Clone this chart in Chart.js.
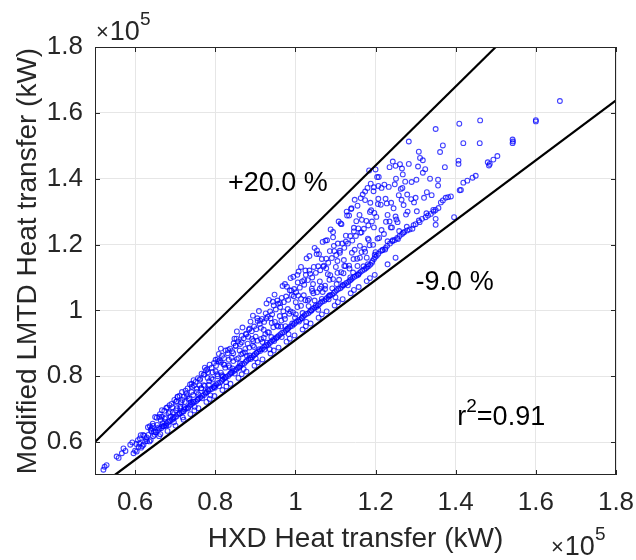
<!DOCTYPE html>
<html>
<head>
<meta charset="utf-8">
<script src="https://cdn.jsdelivr.net/npm/chart.js@4.4.1/dist/chart.umd.min.js"></script>
<style>
html,body{margin:0;padding:0;background:#fff;}
#wrap{width:636px;height:560px;}
</style>
</head>
<body>
<div id="wrap"><canvas id="c" width="636" height="560"></canvas></div>
<script>
// ---- values (units of 1e5 kW) ----
const xTicks = [0.6, 0.8, 1.0, 1.2, 1.4, 1.6, 1.8];
const xTickLabels = ['0.6', '0.8', '1', '1.2', '1.4', '1.6', '1.8'];
const yTicks = [0.6, 0.8, 1.0, 1.2, 1.4, 1.6, 1.8];
const yTickLabels = ['0.6', '0.8', '1', '1.2', '1.4', '1.6', '1.8'];

const startCluster = [[0.521,0.516],[0.524,0.525],[0.529,0.530],[0.554,0.556],[0.559,0.552],[0.567,0.566],[0.571,0.581],[0.576,0.573],[0.588,0.592],[0.593,0.599],[0.596,0.566],[0.600,0.574],[0.604,0.571],[0.607,0.606],[0.612,0.611],[0.615,0.583],[0.621,0.592],[0.625,0.602],[0.629,0.614],[0.633,0.622],[0.637,0.648],[0.642,0.642],[0.639,0.606],[0.645,0.618],[0.647,0.632],[0.644,0.656]];

const mainBand = [[0.652,0.630],[0.657,0.636],[0.661,0.641],[0.665,0.642],[0.668,0.648],
[0.672,0.648],[0.676,0.652],[0.679,0.657],[0.683,0.661],[0.687,0.664],
[0.692,0.668],[0.695,0.671],[0.699,0.675],[0.703,0.678],[0.707,0.684],
[0.712,0.687],[0.716,0.690],[0.719,0.694],[0.723,0.699],[0.727,0.702],
[0.732,0.705],[0.736,0.710],[0.739,0.714],[0.743,0.717],[0.747,0.722],
[0.752,0.724],[0.756,0.729],[0.759,0.733],[0.763,0.736],[0.767,0.741],
[0.772,0.743],[0.776,0.748],[0.779,0.752],[0.783,0.756],[0.787,0.760],
[0.792,0.762],[0.796,0.767],[0.799,0.771],[0.803,0.775],[0.807,0.779],
[0.812,0.781],[0.816,0.786],[0.819,0.790],[0.823,0.794],[0.827,0.798],
[0.832,0.801],[0.836,0.806],[0.839,0.809],[0.843,0.813],[0.847,0.817],
[0.852,0.820],[0.856,0.825],[0.859,0.829],[0.863,0.832],[0.867,0.837],
[0.872,0.839],[0.876,0.844],[0.879,0.848],[0.883,0.852],[0.887,0.856],
[0.892,0.858],[0.896,0.863],[0.899,0.867],[0.903,0.871],[0.907,0.875],
[0.912,0.877],[0.916,0.882],[0.919,0.886],[0.923,0.890],[0.927,0.894],
[0.932,0.896],[0.936,0.901],[0.939,0.905],[0.943,0.909],[0.947,0.913],
[0.952,0.915],[0.956,0.920],[0.959,0.924],[0.963,0.928],[0.967,0.932],
[0.972,0.934],[0.976,0.939],[0.979,0.943],[0.983,0.947],[0.987,0.951],
[0.992,0.953],[0.996,0.958],[0.999,0.962],[1.003,0.966],[1.007,0.970],
[1.012,0.972],[1.016,0.977],[1.019,0.981],[1.023,0.985],[1.027,0.989],
[1.032,0.991],[1.036,0.996],[1.039,1.000],[1.043,1.004],[1.047,1.008],
[1.052,1.010],[1.056,1.015],[1.059,1.019],[1.063,1.023],[1.067,1.027],
[1.072,1.029],[1.076,1.034],[1.079,1.038],[1.083,1.042],[1.087,1.046],
[1.092,1.048],[1.096,1.053],[1.099,1.057],[1.103,1.061],[1.107,1.065],
[1.112,1.067],[1.116,1.072],[1.119,1.076],[1.123,1.079],[1.127,1.083],
[1.132,1.086],[1.136,1.091],[1.139,1.094],[1.143,1.098],[1.147,1.102],
[1.152,1.105],[1.156,1.109],[1.159,1.113],[1.163,1.117],[1.167,1.121],
[1.172,1.124],[1.176,1.128],[1.179,1.132],[1.183,1.135],[1.187,1.139],
[1.192,1.150],[1.196,1.156],[1.199,1.162],[1.203,1.166],[1.207,1.172],[1.213,1.180],
[1.218,1.184],[1.225,1.190],[1.229,1.196],[1.236,1.203],[1.242,1.210],[1.248,1.214],[1.254,1.220],[1.260,1.226],
[1.266,1.232],[1.272,1.238],[1.279,1.243],[1.285,1.246],[1.292,1.248],[1.300,1.262],[1.308,1.273],[1.316,1.278],
[1.325,1.283],[1.331,1.288],[1.338,1.293],[1.345,1.300],[1.350,1.305],[1.357,1.311],[1.363,1.328],[1.368,1.334],
[1.375,1.342],[1.381,1.344],[1.388,1.346]];

const upperStreak = [[0.655,0.652],[0.664,0.667],[0.674,0.671],[0.684,0.688],[0.694,0.690],[0.705,0.703],
[0.713,0.708],[0.724,0.722],[0.718,0.728],[0.734,0.731],[0.745,0.743],[0.741,0.752],
[0.754,0.752],[0.765,0.764],[0.761,0.772],[0.774,0.771],[0.785,0.785],[0.781,0.795],
[0.794,0.790],[0.805,0.806],[0.801,0.815],[0.814,0.811],[0.825,0.826],[0.821,0.836],
[0.834,0.832],[0.845,0.846],[0.841,0.856],[0.854,0.852],[0.865,0.867],[0.861,0.878],
[0.874,0.872],[0.885,0.887],[0.881,0.899],[0.894,0.893],[0.905,0.908],[0.901,0.920],
[0.914,0.913],[0.925,0.928],[0.921,0.941],[0.934,0.933],[0.945,0.949],[0.941,0.962],
[0.954,0.954],[0.965,0.969],[0.961,0.983],[0.974,0.974],[0.985,0.990],[0.981,1.004],
[0.994,0.994],[1.005,1.010],[1.001,1.025],[1.014,1.014],[1.025,1.031],[1.021,1.046],
[1.034,1.035],[1.045,1.052],[1.041,1.066],[1.054,1.055],[1.065,1.072],[1.061,1.088],
[1.074,1.075],[1.085,1.093],[1.081,1.110],[1.094,1.095],[1.105,1.114],[1.101,1.132],
[1.114,1.116],[1.125,1.135],[1.121,1.153],[1.134,1.136],[1.145,1.156],[1.141,1.175],
[1.154,1.157],[1.165,1.177],[1.161,1.196],[1.174,1.178],[1.185,1.198],[1.181,1.218],
[1.194,1.199],[1.205,1.218],[1.221,1.232],[1.238,1.252],[1.255,1.268]];

const lowerStreak = [[0.660,0.618],[0.681,0.634],[0.701,0.650],[0.721,0.668],[0.738,0.685],[0.748,0.696],
[0.758,0.703],[0.778,0.722],[0.786,0.731],[0.798,0.740],[0.818,0.758],[0.828,0.769],
[0.838,0.777],[0.858,0.795],[0.866,0.806],[0.878,0.814],[0.898,0.832],[0.906,0.842],
[0.918,0.851],[0.938,0.869],[0.946,0.878],[0.958,0.887],[0.978,0.905],[0.986,0.914],
[0.998,0.924],[1.018,0.942],[1.026,0.952],[1.038,0.960],[1.058,0.978],[1.066,0.988],
[1.078,0.997],[1.098,1.015],[1.106,1.025],[1.118,1.034],[1.138,1.052],[1.146,1.062],
[1.158,1.071],[1.178,1.089],[1.186,1.098],[1.198,1.108],[1.230,1.140],[1.250,1.160]];

const denseFill = [[0.603,0.594],[0.609,0.586],[0.614,0.621],[0.618,0.588],[0.623,0.619],[0.627,0.609],[0.632,0.645],[0.636,0.602],
[0.641,0.633],[0.645,0.649],[0.649,0.622],[0.654,0.674],[0.658,0.644],[0.663,0.624],[0.667,0.677],[0.671,0.648],
[0.676,0.675],[0.680,0.705],[0.684,0.652],[0.689,0.678],[0.693,0.706],[0.697,0.660],[0.702,0.696],[0.706,0.737],
[0.710,0.687],[0.715,0.721],[0.719,0.675],[0.723,0.706],[0.728,0.747],[0.732,0.702],[0.736,0.733],[0.741,0.777],
[0.745,0.723],[0.749,0.707],[0.754,0.762],[0.758,0.745],[0.762,0.792],[0.767,0.733],[0.771,0.773],[0.775,0.751],
[0.780,0.821],[0.784,0.774],[0.788,0.742],[0.793,0.812],[0.797,0.767],[0.801,0.850],[0.806,0.800],[0.810,0.770],
[0.814,0.842],[0.819,0.799],[0.823,0.835],[0.827,0.782],[0.832,0.880],[0.836,0.827],[0.840,0.811],[0.845,0.870],
[0.849,0.808],[0.853,0.914],[0.858,0.855],[0.862,0.839],[0.866,0.903],[0.871,0.822],[0.875,0.883],[0.879,0.862],
[0.884,0.942],[0.888,0.852],[0.892,0.913],[0.897,0.889],[0.901,0.854],[0.905,0.976],[0.910,0.882],[0.914,0.947],
[0.918,0.904],[0.923,0.881],[0.927,0.975],[0.931,0.934],[0.936,0.882],[0.940,0.919],[0.944,1.026],[0.949,0.965],
[0.953,0.918],[0.957,0.951],[0.962,1.022],[0.966,0.919],[0.970,0.997],[0.975,0.952],[0.979,1.072],[0.983,0.928],
[0.988,0.997],[0.992,0.960],[0.996,1.043],[1.001,0.988],[1.005,1.108],[1.009,0.966],[1.014,1.035],[1.018,0.992],
[1.022,1.092],[1.027,0.965],[1.031,1.030],[1.035,1.121],[1.040,1.000],[1.044,1.080],[1.048,1.030],[1.053,1.171],
[1.057,1.002],[1.061,1.066],[1.066,1.035],[1.070,1.133],[1.074,1.065],[1.079,1.213],[1.083,1.034],[1.087,1.107],
[1.092,1.067],[1.096,1.196],[1.100,1.040],[1.105,1.150],[1.109,1.093],[1.113,1.264],[1.118,1.077],[1.122,1.135],
[1.126,1.209],[1.131,1.076],[1.135,1.127],[1.139,1.308],[1.144,1.115],[1.148,1.184],[1.152,1.271],[1.157,1.108],
[1.161,1.160],[1.165,1.237],[1.170,1.134],[1.174,1.361],[1.178,1.160],[1.183,1.214],[1.187,1.327],[1.191,1.145],
[1.196,1.252],[1.200,1.177],[1.204,1.405],[1.209,1.220],[1.213,1.321],[1.217,1.183],[1.222,1.382],[1.226,1.269],
[1.230,1.210],[1.235,1.435],[1.239,1.327],[1.243,1.213],[1.248,1.383],[1.252,1.276],[1.256,1.217],[1.261,1.444],
[1.265,1.336],[1.269,1.236],[1.274,1.391],[1.278,1.254],[1.283,1.445],[1.289,1.338],[1.295,1.259],[1.302,1.397],
[1.310,1.268],[1.318,1.456],[1.327,1.295],[1.336,1.400],[1.344,1.305],
[0.611,0.595],[0.620,0.622],[0.630,0.603],[0.639,0.638],[0.651,0.630],[0.660,0.676],[0.669,0.657],[0.678,0.650],
[0.687,0.691],[0.695,0.675],[0.704,0.724],[0.713,0.703],[0.721,0.693],[0.730,0.739],[0.739,0.721],[0.747,0.772],
[0.756,0.729],[0.765,0.763],[0.773,0.805],[0.782,0.760],[0.790,0.794],[0.799,0.765],[0.808,0.845],[0.817,0.803],
[0.825,0.797],[0.834,0.850],[0.843,0.824],[0.851,0.893],[0.860,0.826],[0.869,0.870],[0.877,0.927],[0.886,0.863],
[0.895,0.907],[0.903,0.871],[0.912,0.969],[0.921,0.917],[0.929,0.902],[0.938,0.976],[0.947,0.907],[0.955,1.030],
[0.964,0.951],[0.973,0.984],[0.981,0.944],[0.990,1.060],[0.999,0.978],[1.007,1.045],[1.016,0.976],[1.025,1.121],
[1.033,1.013],[1.042,1.059],[1.051,1.015],[1.059,1.171],[1.068,1.056],[1.077,1.128],[1.085,1.045],[1.094,1.222],
[1.103,1.080],[1.111,1.175],[1.120,1.113],[1.129,1.288],[1.137,1.100],[1.146,1.240],[1.155,1.135],[1.163,1.341],
[1.172,1.187],[1.181,1.140],[1.189,1.304],[1.198,1.169],[1.207,1.378],[1.215,1.244],[1.224,1.185],[1.233,1.375],
[1.241,1.252],[1.250,1.439],[1.259,1.241],[1.267,1.372],[1.276,1.291]];

const scatterCloud = [[0.650,0.676],[0.662,0.685],[0.667,0.697],[0.673,0.695],[0.678,0.704],[0.686,0.712],
[0.691,0.716],[0.698,0.728],[0.706,0.738],[0.702,0.722],[0.711,0.741],[0.717,0.752],[0.726,0.756],[0.722,0.738],
[0.731,0.763],[0.737,0.775],[0.746,0.788],[0.742,0.768],[0.751,0.783],[0.757,0.794],[0.766,0.808],[0.762,0.789],
[0.771,0.805],[0.777,0.818],[0.786,0.835],[0.782,0.812],[0.774,0.826],
[0.791,0.826],[0.797,0.840],[0.806,0.852],[0.802,0.832],[0.809,0.868],
[0.811,0.848],[0.817,0.862],[0.826,0.878],[0.822,0.855],[0.814,0.884],
[0.831,0.870],[0.837,0.884],[0.846,0.900],[0.842,0.876],[0.848,0.914],
[0.851,0.892],[0.857,0.906],[0.866,0.923],[0.862,0.898],[0.854,0.936],[0.868,0.948],
[0.871,0.915],[0.877,0.929],[0.886,0.945],[0.882,0.920],[0.888,0.966],
[0.891,0.937],[0.897,0.951],[0.906,0.968],[0.902,0.943],[0.894,0.984],[0.909,0.998],
[0.911,0.959],[0.917,0.974],[0.926,0.991],[0.922,0.965],[0.928,1.021],
[0.931,0.981],[0.937,0.997],[0.946,1.015],[0.942,0.988],[0.934,1.032],[0.948,1.048],
[0.951,1.003],[0.957,1.020],[0.966,1.038],[0.962,1.010],[0.968,1.074],
[0.971,1.025],[0.977,1.042],[0.986,1.061],[0.982,1.032],[0.974,1.080],[0.988,1.098],
[0.991,1.047],[0.997,1.065],[1.006,1.085],[1.002,1.055],[1.008,1.118],[0.995,1.102],
[1.011,1.069],[1.017,1.088],[1.026,1.108],[1.022,1.078],[1.014,1.132],[1.028,1.158],
[1.031,1.092],[1.037,1.111],[1.046,1.132],[1.042,1.100],[1.048,1.190],[1.035,1.165],
[1.051,1.114],[1.057,1.134],[1.066,1.156],[1.062,1.122],[1.054,1.182],[1.068,1.208],
[1.071,1.136],[1.077,1.157],[1.086,1.180],[1.082,1.145],[1.088,1.246],[1.075,1.212],
[1.091,1.159],[1.097,1.180],[1.106,1.203],[1.102,1.168],[1.094,1.238],[1.108,1.270],
[1.111,1.181],[1.117,1.203],[1.126,1.227],[1.122,1.190],[1.128,1.300],[1.115,1.262],
[1.131,1.203],[1.137,1.226],[1.146,1.251],[1.142,1.212],[1.134,1.288],[1.148,1.336],[1.140,1.310],
[1.151,1.226],[1.157,1.249],[1.166,1.275],[1.162,1.236],[1.168,1.352],[1.155,1.318],[1.160,1.290],
[1.171,1.248],[1.177,1.272],[1.186,1.299],[1.182,1.258],[1.174,1.335],[1.188,1.385],[1.180,1.372],
[1.191,1.270],[1.197,1.296],[1.206,1.323],[1.202,1.284],[1.208,1.405],[1.195,1.362],[1.184,1.425],[1.200,1.428],
[1.207,1.339],[1.215,1.372],[1.196,1.374],[1.228,1.325],[1.225,1.339],[1.243,1.452],[1.251,1.400],[1.268,1.413],
[1.266,1.431],[1.263,1.369],[1.230,1.290],[1.245,1.310],[1.235,1.270],[1.250,1.285],[1.258,1.350]];

const highRange = [[1.283,1.513],[1.308,1.482],[1.311,1.463],[1.306,1.437],[1.324,1.429],[1.318,1.418],[1.328,1.359],
[1.279,1.352],[1.321,1.342],[1.300,1.342],[1.296,1.328],[1.303,1.301],[1.350,1.278],[1.350,1.260],[1.396,1.283],
[1.350,1.551],[1.368,1.501],[1.361,1.481],[1.373,1.435],[1.356,1.397],[1.356,1.379],[1.280,1.300],[1.290,1.390],
[1.270,1.320],[1.340,1.350],[1.413,1.366],[1.419,1.388],[1.429,1.394],[1.442,1.403],[1.450,1.409],[1.410,1.365],
[1.409,1.567],[1.419,1.508],[1.460,1.508],[1.461,1.577],[1.407,1.455],[1.407,1.445],[1.480,1.450],[1.483,1.440],
[1.485,1.445],[1.494,1.458],[1.504,1.469],[1.542,1.519],[1.542,1.508],[1.543,1.513],[1.600,1.574],[1.600,1.578],
[1.660,1.636]];

const boundPlus20 = [[0.5, 0.6], [1.5, 1.8]];
const boundMinus9 = [[0.5495, 0.5], [1.8, 1.638]];

// ---- build ----
const toXY = arr => arr.map(p => ({x: p[0], y: p[1]}));
const allPoints = [].concat(startCluster, mainBand, upperStreak, lowerStreak, denseFill, scatterCloud, highRange);

const TXT = '#262626';
const FONT = '"Liberation Sans", Arial, Helvetica, sans-serif';

const decorPlugin = {
  id: 'decor',
  afterDraw(chart) {
    const {ctx, chartArea: a, scales: {x, y}} = chart;
    ctx.save();
    ctx.strokeStyle = TXT;
    ctx.lineWidth = 1;
    ctx.strokeRect(Math.round(a.left) + 0.5, Math.round(a.top) + 0.5, Math.round(a.right - a.left) - 1, Math.round(a.bottom - a.top) - 1);
    ctx.beginPath();
    xTicks.forEach(v => {
      const px = Math.round(x.getPixelForValue(v)) + 0.5;
      ctx.moveTo(px, a.bottom); ctx.lineTo(px, a.bottom - 5);
      ctx.moveTo(px, a.top); ctx.lineTo(px, a.top + 5);
    });
    yTicks.forEach(v => {
      const py = Math.round(y.getPixelForValue(v)) + 0.5;
      ctx.moveTo(a.left, py); ctx.lineTo(a.left + 5, py);
      ctx.moveTo(a.right, py); ctx.lineTo(a.right - 5, py);
    });
    ctx.stroke();

    ctx.fillStyle = '#000';
    ctx.textBaseline = 'alphabetic';
    ctx.textAlign = 'left';
    ctx.font = '27px ' + FONT;
    ctx.fillText('+20.0 %', x.getPixelForValue(0.832), y.getPixelForValue(1.364));
    ctx.fillText('-9.0 %', x.getPixelForValue(1.30), y.getPixelForValue(1.062));
    let rx = x.getPixelForValue(1.404), ry = y.getPixelForValue(0.651);
    ctx.fillText('r', rx, ry);
    rx += ctx.measureText('r').width;
    ctx.font = '19px ' + FONT;
    ctx.fillText('2', rx, ry - 13);
    rx += ctx.measureText('2').width;
    ctx.font = '27px ' + FONT;
    ctx.fillText('=0.91', rx, ry);

    ctx.fillStyle = TXT;
    const drawExp = (lx, by) => {
      ctx.font = '22px ' + FONT;
      ctx.fillText('\u00D7', lx, by - 1);
      let cx = lx + ctx.measureText('\u00D7').width + 1;
      ctx.font = '27px ' + FONT;
      ctx.fillText('10', cx, by);
      cx += ctx.measureText('10').width;
      ctx.font = '19px ' + FONT;
      ctx.fillText('5', cx, by - 15);
    };
    drawExp(a.left + 1, a.top - 7);
    drawExp(a.right - 65, a.bottom + 80);
    ctx.restore();
  }
};

const tickFont = {family: FONT, size: 26};
const titleFont = {family: FONT, size: 28};

new Chart(document.getElementById('c'), {
  type: 'scatter',
  data: {
    datasets: [
      {type: 'line', data: toXY(boundPlus20), borderColor: '#000', borderWidth: 2.2, pointRadius: 0, fill: false, showLine: true},
      {type: 'line', data: toXY(boundMinus9), borderColor: '#000', borderWidth: 2.2, pointRadius: 0, fill: false, showLine: true},
      {data: toXY(allPoints), pointStyle: 'circle', pointRadius: 2.4, pointBorderWidth: 1.1,
       pointBorderColor: 'rgba(0,0,255,0.75)', pointBackgroundColor: 'rgba(0,0,0,0)',
       borderColor: 'rgba(0,0,255,0.75)', backgroundColor: 'rgba(0,0,0,0)'}
    ]
  },
  options: {
    responsive: false,
    animation: false,
    events: [],
    layout: {padding: {left: 0, right: 20, top: 47, bottom: 0}},
    plugins: {legend: {display: false}, tooltip: {enabled: false}},
    scales: {
      x: {
        type: 'linear', min: 0.5, max: 1.8,
        afterBuildTicks: s => { s.ticks = xTicks.map(v => ({value: v})); },
        afterFit: s => { s.height = 85; s.paddingLeft = 0; s.paddingRight = 0; },
        ticks: {font: tickFont, color: TXT, padding: 12, maxRotation: 0, autoSkip: false,
                callback: (v) => { const i = xTicks.findIndex(t => Math.abs(t - v) < 1e-9); return i >= 0 ? xTickLabels[i] : ''; }},
        grid: {color: '#e6e6e6', drawTicks: false, lineWidth: 1},
        border: {display: false},
        title: {display: true, text: 'HXD Heat transfer (kW)', font: titleFont, color: TXT, padding: {top: 0, bottom: 4}}
      },
      y: {
        type: 'linear', min: 0.5, max: 1.8,
        afterBuildTicks: s => { s.ticks = yTicks.map(v => ({value: v})); },
        afterFit: s => { s.width = 95; s.paddingTop = 0; s.paddingBottom = 0; },
        ticks: {font: tickFont, color: TXT, padding: 12, autoSkip: false,
                callback: (v) => { const i = yTicks.findIndex(t => Math.abs(t - v) < 1e-9); return i >= 0 ? yTickLabels[i] : ''; }},
        grid: {color: '#e6e6e6', drawTicks: false, lineWidth: 1},
        border: {display: false},
        title: {display: true, text: 'Modified LMTD Heat transfer (kW)', font: titleFont, color: TXT, padding: {top: 11, bottom: 0}}
      }
    }
  },
  plugins: [decorPlugin]
});
</script>
</body>
</html>
